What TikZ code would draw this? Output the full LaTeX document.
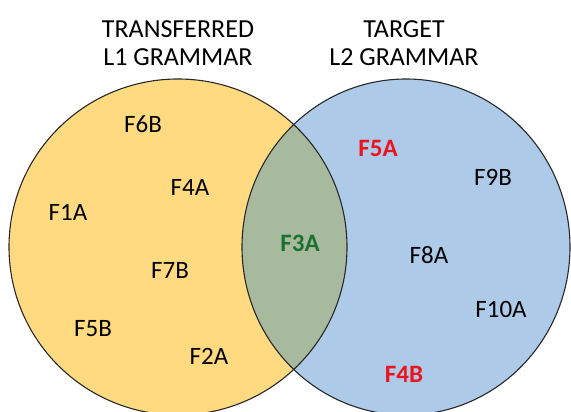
\documentclass[tikz,border=0pt]{standalone}
\usepackage{fontspec}
\setmainfont{Carlito}
\begin{document}
\begin{tikzpicture}[x=1pt,y=-1pt,
  yellowset/.style={fill=setyellow},
  blueset/.style={fill=setblue},
  outline/.style={draw=outlinegray,line width=1.1pt},
  title/.style={font=\fontsize{26}{31}\selectfont,align=center,text=black},
  item/.style={font=\fontsize{25}{30}\selectfont,text=black,inner sep=0pt},
  redbold/.style={item,font=\fontsize{25}{30}\selectfont\bfseries,text=itemred},
  greenbold/.style={item,font=\fontsize{25}{30}\selectfont\bfseries,text=itemgreen}]
\definecolor{setyellow}{RGB}{255,218,128}
\definecolor{setblue}{RGB}{173,203,233}
\definecolor{overlap}{RGB}{168,186,158}
\definecolor{outlinegray}{RGB}{40,40,40}
\definecolor{itemred}{RGB}{235,20,30}
\definecolor{itemgreen}{RGB}{28,112,50}
\useasboundingbox (0,0) rectangle (571,412);

% the two sets and their intersection
\fill[yellowset] (178,247) ellipse [x radius=169, y radius=168];
\fill[blueset] (406,247) ellipse [x radius=164, y radius=168];
\begin{scope}
  \clip (178,247) ellipse [x radius=169, y radius=168];
  \fill[overlap] (406,247) ellipse [x radius=164, y radius=168];
\end{scope}
\draw[outline] (178,247) ellipse [x radius=169, y radius=168];
\draw[outline] (406,247) ellipse [x radius=164, y radius=168];

% set headings
\node[title] (l1) at (178,43) {TRANSFERRED\\[-3pt]L1 GRAMMAR};
\node[title] (l2) at (404,43) {TARGET\\[-3pt]L2 GRAMMAR};

% features of the L1 grammar
\node[item] (f6b) at (143,124) {F6B};
\node[item] (f4a) at (190,187) {F4A};
\node[item] (f1a) at (68,212) {F1A};
\node[item] (f7b) at (170,270) {F7B};
\node[item] (f5b) at (93,329) {F5B};
\node[item] (f2a) at (209,356) {F2A};

% shared feature
\node[greenbold] (f3a) at (300,243) {F3A};

% features of the L2 grammar
\node[redbold] (f5a) at (378,148) {F5A};
\node[item] (f9b) at (493,177) {F9B};
\node[item] (f8a) at (429,255) {F8A};
\node[item] (f10a) at (501,309) {F10A};
\node[redbold] (f4b) at (404,374) {F4B};
\end{tikzpicture}
\end{document}
